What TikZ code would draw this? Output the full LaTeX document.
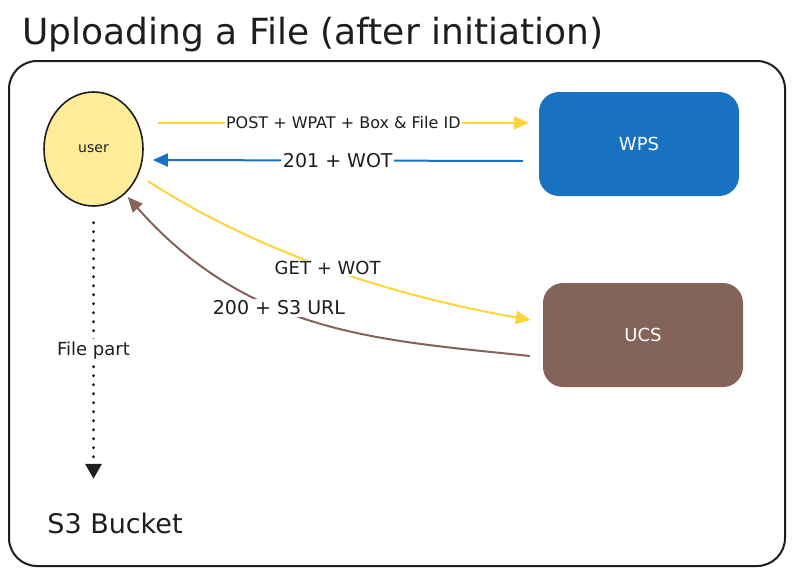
\documentclass[tikz,border=0pt]{standalone}
\usepackage{fontspec}
\setmainfont{DejaVu Sans}
\usetikzlibrary{arrows.meta,shapes.geometric}
\definecolor{ink}{HTML}{1E1E1E}
\definecolor{userfill}{HTML}{FFEC99}
\definecolor{wpsblue}{HTML}{1971C2}
\definecolor{ucsbrown}{HTML}{846358}
\definecolor{arrowyellow}{HTML}{FFD43B}
\tikzset{
  fsz/.style={font=\fontsize{#1}{#1}\selectfont},
  service/.style={rounded corners=20pt, minimum width=200pt, minimum height=104pt, inner sep=0pt, text=white, fsz=18},
  conn/.style={line width=2pt, -{Triangle[length=15pt,width=13pt]}},
  lbl/.style={fill=white, inner sep=1.5pt, text=ink},
}
\begin{document}
\begin{tikzpicture}[x=1pt,y=-1pt]
\useasboundingbox (0,0) rectangle (794,576);
% title
\node[anchor=base west, inner sep=0pt, text=ink, fsz=36] (title) at (22,44) {Uploading a File (after initiation)};
% frame
\draw[ink, line width=2pt, rounded corners=28pt] (9,61) rectangle (785,566);
% nodes
\node[ellipse, draw=ink, line width=1.6pt, fill=userfill, minimum width=99pt, minimum height=114pt, inner sep=0pt, text=ink, fsz=14] (user) at (93.5,149) {user};
\node[service, fill=wpsblue] (wps) at (639,144) {WPS};
\node[service, fill=ucsbrown] (ucs) at (643,335) {UCS};
\node[text=ink, fsz=27, inner sep=0pt] (s3) at (115,523) {S3 Bucket};
% connectors
\draw[conn, arrowyellow] ([xshift=14pt,yshift=26pt]user.east) -- node[lbl, fsz=16] {POST + WPAT + Box \& File ID} ([xshift=-10pt,yshift=21pt]wps.west);
\draw[conn, wpsblue] ([xshift=-16pt,yshift=-17pt]wps.west) -- node[lbl, fsz=19] {201 + WOT} ([xshift=9pt,yshift=-11pt]user.east);
\draw[conn, arrowyellow] ([xshift=4pt,yshift=-32pt]user.east) .. controls (250,247) and (377,293) .. node[lbl, fsz=18, pos=0.52] {GET + WOT} ([xshift=-12pt,yshift=15pt]ucs.west);
\draw[conn, ucsbrown] ([xshift=-13pt,yshift=-21pt]ucs.west) .. controls (380,340) and (250,335) .. node[lbl, fsz=19, pos=0.6] {200 + S3 URL} ([xshift=-16pt,yshift=-48pt]user.east);
\draw[ink, line width=3.2pt, line cap=round, dash pattern=on 0pt off 9pt, -{Triangle[length=15pt,width=16pt]}] ([yshift=-16pt]user.south) -- node[lbl, fsz=18, inner sep=3pt] {File part} ([yshift=-272pt]user.south);
\end{tikzpicture}
\end{document}
